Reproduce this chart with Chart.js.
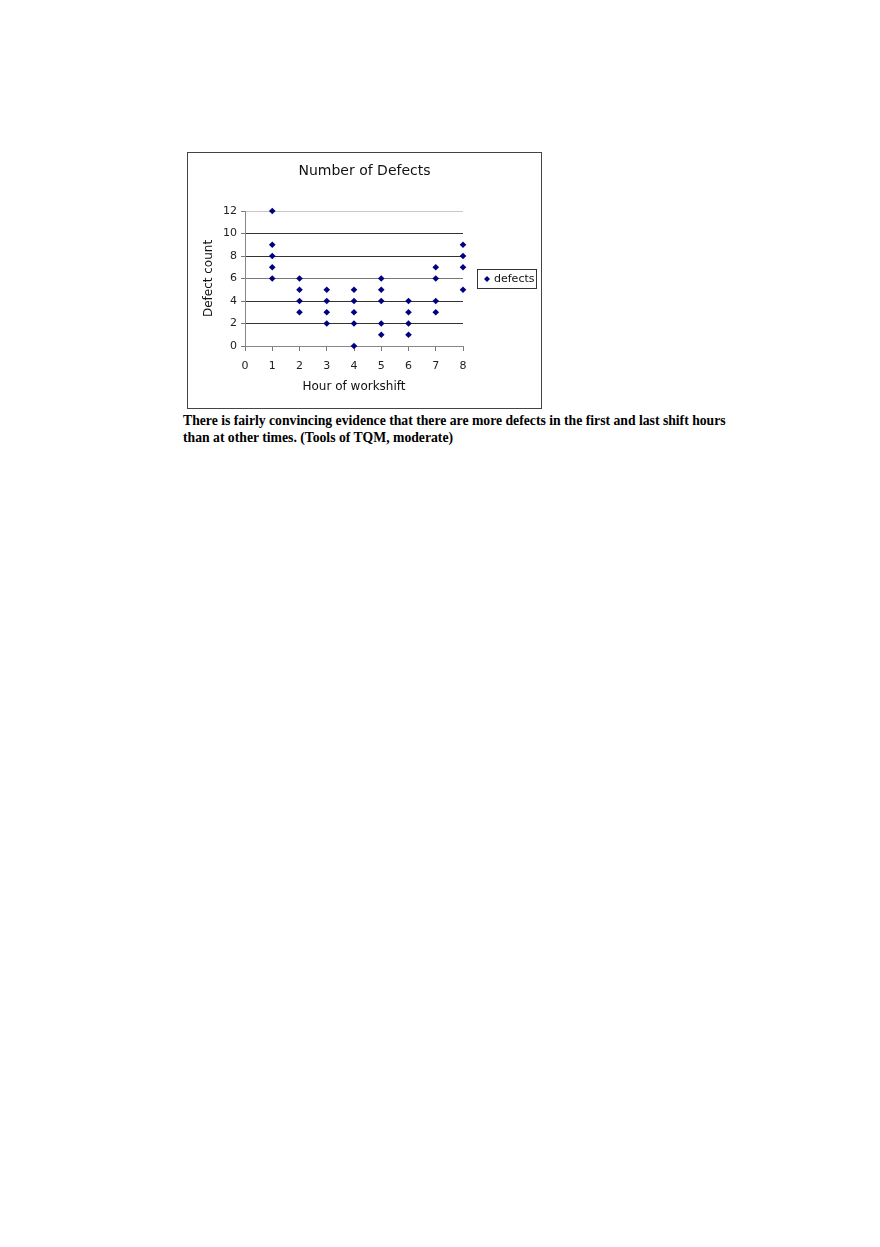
<!DOCTYPE html>
<html>
<head>
<meta charset="utf-8">
<script src="https://cdn.jsdelivr.net/npm/chart.js@4/dist/chart.umd.min.js"></script>
<style>
  body { margin: 0; background: #fff; width: 880px; height: 1247px; position: relative; }
  #box {
    position: absolute; left: 187px; top: 152px;
    width: 353px; height: 255px;
    border: 1px solid #444;
  }
  #caption {
    position: absolute; left: 183px; top: 412px; width: 565px;
    font-family: "Liberation Serif", "Times New Roman", serif;
    font-weight: bold; font-size: 13.7px; line-height: 17px; color: #000;
  }
</style>
</head>
<body>
<div id="box"><canvas id="chart" width="353" height="255"></canvas></div>
<div id="caption">There is fairly convincing evidence that there are more defects in the first and last shift hours than at other times. (Tools of TQM, moderate)</div>
<script>
// Defect counts observed per hour of the workshift
const hours  = [1, 1, 1, 1, 1, 2, 2, 2, 2, 3, 3, 3, 3, 4, 4, 4, 4, 4, 5, 5, 5, 5, 5, 6, 6, 6, 6, 7, 7, 7, 7, 8, 8, 8, 8];
const counts = [12, 9, 8, 7, 6, 6, 5, 4, 3, 5, 4, 3, 2, 5, 4, 3, 2, 0, 6, 5, 4, 2, 1, 4, 3, 2, 1, 7, 6, 4, 3, 9, 8, 7, 5];
const seriesName = 'defects';
const chartTitle = 'Number of Defects';
const xTitle = 'Hour of workshift';
const yTitle = 'Defect count';

const font = 'DejaVu Sans, Verdana, sans-serif';
const navy = '#000080';

// title centred on the whole box + legend with a border, like the spreadsheet one
const boxDecor = {
  id: 'boxDecor',
  afterDraw(chart) {
    const ctx = chart.ctx;
    const area = chart.chartArea;
    ctx.save();
    ctx.fillStyle = '#111';
    ctx.font = '14px ' + font;
    ctx.textAlign = 'center';
    ctx.textBaseline = 'middle';
    ctx.fillText(chartTitle, chart.width / 2, 18);

    const w = 59, h = 19;
    const x = area.right + 14;
    const y = Math.round((area.top + area.bottom) / 2 - h / 2);
    ctx.strokeStyle = '#333';
    ctx.lineWidth = 1;
    ctx.strokeRect(x + 0.5, y + 0.5, w, h);
    const cx = x + 10, cy = y + h / 2 + 0.5;
    ctx.fillStyle = navy;
    ctx.beginPath();
    ctx.moveTo(cx, cy - 3);
    ctx.lineTo(cx + 3, cy);
    ctx.lineTo(cx, cy + 3);
    ctx.lineTo(cx - 3, cy);
    ctx.closePath();
    ctx.fill();
    ctx.fillStyle = '#111';
    ctx.font = '11px ' + font;
    ctx.textAlign = 'left';
    ctx.fillText(chart.data.datasets[0].label, x + 17, cy);
    ctx.restore();
  }
};

new Chart(document.getElementById('chart'), {
  type: 'scatter',
  data: {
    datasets: [{
      label: seriesName,
      data: hours.map((h, i) => ({ x: h, y: counts[i] })),
      pointStyle: 'rectRot',
      pointRadius: 3.3,
      pointHoverRadius: 3.3,
      backgroundColor: navy,
      borderColor: navy,
      borderWidth: 0,
      clip: false
    }]
  },
  options: {
    responsive: false,
    animation: false,
    layout: { padding: { left: 0, right: 78, top: 58, bottom: 0 } },
    plugins: {
      legend: { display: false },
      tooltip: { enabled: false },
      title: { display: false }
    },
    scales: {
      x: {
        type: 'linear',
        min: 0,
        max: 8,
        ticks: { stepSize: 1, color: '#222', font: { family: font, size: 11 }, padding: 9 },
        grid: { drawOnChartArea: false, tickLength: 5, tickColor: '#777' },
        border: { color: '#888' },
        title: {
          display: true,
          text: xTitle,
          color: '#111',
          font: { family: font, size: 12 },
          padding: { top: 0, bottom: 14 }
        },
        afterFit(scale) { scale.height = 62; }
      },
      y: {
        min: 0,
        max: 12,
        ticks: { stepSize: 2, color: '#222', font: { family: font, size: 11 }, padding: 4 },
        grid: {
          tickLength: 4,
          tickColor: '#777',
          color: (c) => {
            const v = c.tick ? c.tick.value : 0;
            if (v === 0) return 'rgba(0,0,0,0)';
            if (v === 12) return '#c8c8c8';
            if (v === 6) return '#777';
            return '#333';
          }
        },
        border: { color: '#888' },
        title: {
          display: true,
          text: yTitle,
          color: '#111',
          font: { family: font, size: 12 },
          padding: { top: 14, bottom: 0 }
        },
        afterFit(scale) { scale.width = 57; }
      }
    }
  },
  plugins: [boxDecor]
});
</script>
</body>
</html>
